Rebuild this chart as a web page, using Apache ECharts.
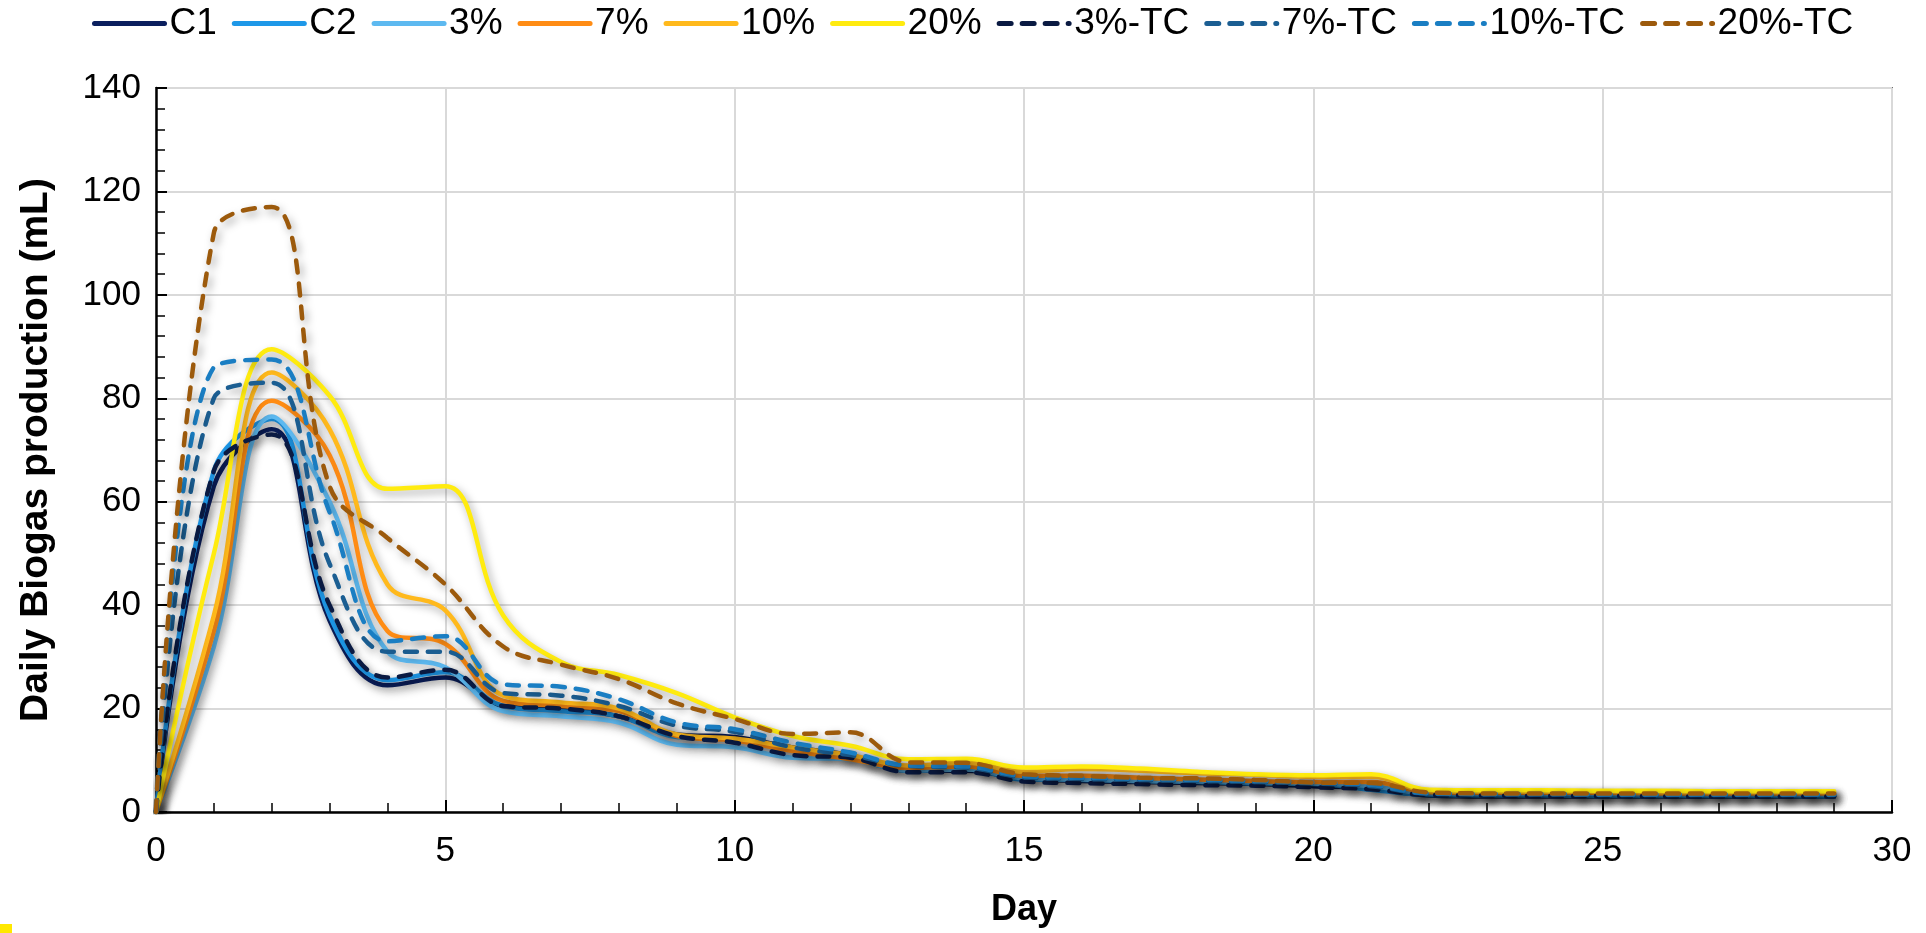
<!DOCTYPE html>
<html>
<head>
<meta charset="utf-8">
<script src="https://cdn.jsdelivr.net/npm/echarts@6/dist/echarts.min.js"></script>
<style>
html,body{margin:0;padding:0;background:#fff;}
#chart{width:1926px;height:933px;}
</style>
</head>
<body>
<div id="chart"></div>
<script>
// Day index
const days = [0,1,2,3,4,5,6,7,8,9,10,11,12,13,14,15,16,17,18,19,20,21,22,23,24,25,26,27,28,29];

// Series names (legend order)
const seriesNames = ["C1","C2","3%","7%","10%","20%","3%-TC","7%-TC","10%-TC","20%-TC"];

// Daily biogas production (mL)
const c1     = [0,63,74,37,24.5,26,20.5,20,18.5,15,14.5,12.5,11,8,8,6.5,6,5.8,5.6,5.4,5,4.5,3.2,3,3,3,3,3,3,3];
const c2     = [0,66,76,38,25.5,27,20.5,19.5,18.5,14.5,14,12,10.5,8,8.2,6.3,6.2,6,5.8,5.5,5.4,4.3,3.3,3.2,3.2,3.1,3.1,3.1,3.1,3];
const p3     = [0,32,76.5,60,31,28,19.5,18.5,17.3,13,12.5,10.5,10.2,8,8.2,6.5,6.3,6,5.9,5.7,5.5,5,3.6,3.5,3.5,3.5,3.4,3.4,3.4,3.4];
const p7     = [0,35,79.5,69,35,32.5,21.5,20.5,19.5,14.7,13.8,11.8,10.2,8.5,8.8,7,7,6.6,6.3,6,5.8,5.8,3.8,3.7,3.7,3.7,3.6,3.6,3.6,3.6];
const p10    = [0,38,85,74,44,39,22.5,21.2,20,15,14.2,12.5,11,9,9.5,7.8,8.3,8,7.5,7.2,6.8,6.8,4,3.9,3.9,3.9,3.8,3.8,3.8,3.8];
const p20    = [0,50,89.5,80.5,62.5,63,38,29,26.5,23,18.3,14.7,12.8,10.2,10.3,8.6,8.8,8.4,7.8,7.3,7.1,7.3,4.3,4.2,4.2,4.1,4.1,4,4,4];
const p3tc   = [0,66,73,40,26,27.5,20.5,20,18.5,14.7,13.4,11,10.5,7.7,7.7,5.9,5.6,5.4,5.2,5.1,4.8,4.4,3.3,3.2,3.1,3.1,3,3,3,3];
const p7tc   = [0,80,83,48,31,31,23,22.5,20.5,16.7,15.5,12.5,11,8.9,8.6,6.7,6.4,6.2,6,5.8,5.5,5,3.5,3.4,3.4,3.3,3.3,3.3,3.3,3.3];
const p10tc  = [0,86,87.5,58,33,34,24.7,24.2,21.8,17.3,16,13.4,11.5,9,8.8,6.9,6.6,6.4,6.2,6,5.7,5.2,3.6,3.5,3.5,3.4,3.4,3.4,3.4,3.4];
const p20tc  = [0,112,117,63,53,44,32,28.5,25.7,21,18,15.1,15.4,9.6,9.5,7.3,7,6.6,6.5,6.2,5.7,5.6,3.8,3.6,3.6,3.6,3.6,3.6,3.6,3.6];

const seriesValues = [c1,c2,p3,p7,p10,p20,p3tc,p7tc,p10tc,p20tc];
const seriesColors = ["#0B1F5E","#1E98E8","#5DB9F0","#FF8C14","#FFB91C","#FFEB0F","#0A1A42","#1B5E92","#1A7EC3","#9C5A0C"];
const seriesDashed = [false,false,false,false,false,false,true,true,true,true];

const FONT = "'Liberation Sans', Arial, sans-serif";

const chart = echarts.init(document.getElementById('chart'), null, {renderer:'canvas'});

const series = seriesNames.map((name, i) => ({
  name: name,
  type: 'line',
  data: days.map((d, j) => [d, seriesValues[i][j]]),
  smooth: 0.4,
  symbol: 'none',
  showSymbol: false,
  color: seriesColors[i],
  lineStyle: {
    color: seriesColors[i],
    width: 4.5,
    type: seriesDashed[i] ? [12, 11] : 'solid',
    cap: 'round',
    shadowColor: 'rgba(0,0,0,0.35)',
    shadowBlur: 8,
    shadowOffsetX: 3,
    shadowOffsetY: 4
  },
  emphasis: {disabled: true},
  z: 2 + i
}));

chart.setOption({
  animation: false,
  backgroundColor: '#fff',
  textStyle: {fontFamily: FONT},
  grid: {
    left: 156, right: 34, top: 88, bottom: 120,
    show: true, borderColor: '#000', borderWidth: 1.5, backgroundColor: 'transparent'
  },
  legend: {
    data: seriesNames,
    left: 87, top: 0,
    itemWidth: 70, itemHeight: 14, itemGap: 15,
    textStyle: {fontSize: 37, color: '#000', fontFamily: FONT},
    itemStyle: {opacity: 0, borderWidth: 0},
    lineStyle: {width: 5, shadowBlur: 0, shadowColor: 'rgba(0,0,0,0)', shadowOffsetX: 0, shadowOffsetY: 0}
  },
  xAxis: {
    type: 'value', min: 0, max: 30, interval: 5,
    name: 'Day', nameLocation: 'middle', nameGap: 80,
    nameTextStyle: {fontSize: 36, fontWeight: 'bold', color: '#000', fontFamily: FONT},
    axisLine: {show: true, onZero: false, lineStyle: {color: '#000', width: 2.5}},
    axisTick: {show: true, inside: true, length: 12, lineStyle: {color: '#000', width: 2}},
    minorTick: {show: true, splitNumber: 5, length: 9, lineStyle: {color: '#000', width: 1.5}},
    splitLine: {show: true, lineStyle: {color: '#d9d9d9', width: 2}},
    axisLabel: {fontSize: 35, color: '#000', margin: 22, fontFamily: FONT}
  },
  yAxis: {
    type: 'value', min: 0, max: 140, interval: 20,
    name: 'Daily Biogas production (mL)', nameLocation: 'middle', nameGap: 100,
    nameTextStyle: {fontSize: 39, fontWeight: 'bold', color: '#000', fontFamily: FONT},
    axisLine: {show: true, onZero: false, lineStyle: {color: '#000', width: 2.5}},
    axisTick: {show: true, inside: true, length: 11, lineStyle: {color: '#000', width: 2}},
    minorTick: {show: true, splitNumber: 5, length: 9, lineStyle: {color: '#000', width: 1.5}},
    splitLine: {show: true, lineStyle: {color: '#d9d9d9', width: 2}},
    axisLabel: {fontSize: 35, color: '#000', margin: 15, fontFamily: FONT}
  },
  graphic: [{
    type: 'rect', left: 0, bottom: 0,
    shape: {width: 12, height: 9},
    style: {fill: '#FFE800'}
  }],
  series: series
});
</script>
</body>
</html>
